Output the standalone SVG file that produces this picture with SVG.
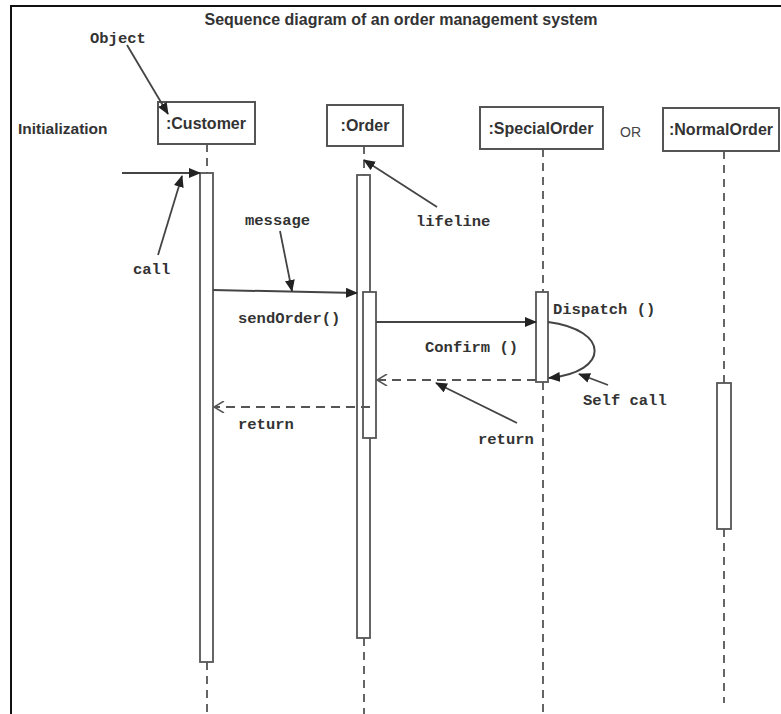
<svg xmlns="http://www.w3.org/2000/svg" width="781" height="714" viewBox="0 0 781 714">
<style>
.box{fill:#fff;stroke:#555;stroke-width:2}
.act{fill:#fff;stroke:#555;stroke-width:1.8}
.life{stroke:#555;stroke-width:1.8;stroke-dasharray:8,6;fill:none}
.msg{stroke:#444;stroke-width:2;fill:none}
.ret{stroke:#555;stroke-width:2;stroke-dasharray:9,6;fill:none}
.ann{stroke:#444;stroke-width:1.8;fill:none}
.lbl{font-family:"Liberation Sans",Arial,sans-serif;font-weight:bold;fill:#333}
.mono{font-family:"Liberation Mono","Courier New",monospace;font-size:15.5px;font-weight:bold;fill:#333}
</style>
<defs>
<marker id="fill" markerWidth="12" markerHeight="10" refX="11" refY="5" orient="auto" markerUnits="userSpaceOnUse">
<path d="M0,0 L12,5 L0,10 Z" fill="#222"/>
</marker>
<marker id="open" markerWidth="12" markerHeight="12" refX="11" refY="6" orient="auto" markerUnits="userSpaceOnUse">
<path d="M1,0 L11,6 L1,12" fill="none" stroke="#555" stroke-width="1.5"/>
</marker>
</defs>
<rect width="781" height="714" fill="#fff"/>
<path d="M11,714 V6 H781" fill="none" stroke="#111" stroke-width="2"/>
<text class="lbl" x="401" y="25" font-size="16" text-anchor="middle">Sequence diagram of an order management system</text>
<text class="lbl" x="18" y="134" font-size="15.5">Initialization</text>
<text x="620" y="137" font-family="Liberation Sans,Arial,sans-serif" font-size="14" fill="#444">OR</text>

<g id="customer">
<rect class="box" x="158" y="102" width="97" height="42"/>
<text class="lbl" x="206" y="129" font-size="16" text-anchor="middle">:Customer</text>
<line class="life" x1="207" y1="144" x2="207" y2="173"/>
<rect class="act" x="200" y="173" width="13" height="489"/>
<line class="life" x1="207" y1="662" x2="207" y2="714"/>
</g>
<g id="order">
<rect class="box" x="327" y="105" width="76" height="41"/>
<text class="lbl" x="365" y="131" font-size="16" text-anchor="middle">:Order</text>
<line class="life" x1="364" y1="146" x2="364" y2="175"/>
<rect class="act" x="357" y="175" width="13" height="463"/>
<rect class="act" x="363" y="292" width="13" height="146"/>
<line class="life" x1="364" y1="638" x2="364" y2="714"/>
</g>
<g id="specialorder">
<rect class="box" x="480" y="107" width="123" height="42"/>
<text class="lbl" x="541" y="134" font-size="16" text-anchor="middle">:SpecialOrder</text>
<line class="life" x1="543" y1="149" x2="543" y2="292"/>
<rect class="act" x="536" y="292" width="12" height="90"/>
<line class="life" x1="543" y1="382" x2="543" y2="714"/>
</g>
<g id="normalorder">
<rect class="box" x="663" y="108" width="116" height="43"/>
<text class="lbl" x="721" y="135" font-size="16" text-anchor="middle">:NormalOrder</text>
<line class="life" x1="724" y1="151" x2="724" y2="383"/>
<rect class="act" x="717" y="383" width="14" height="146"/>
<line class="life" x1="724" y1="529" x2="724" y2="703"/>
</g>

<g id="connectors">
<line class="msg" x1="122" y1="173" x2="200" y2="173" marker-end="url(#fill)"/>
<line class="msg" x1="213" y1="290" x2="357" y2="293" marker-end="url(#fill)"/>
<line class="msg" x1="376" y1="322" x2="536" y2="322" marker-end="url(#fill)"/>
<path class="msg" d="M548,322 C610,330 610,372 549,378" marker-end="url(#fill)"/>
<line class="ret" x1="536" y1="380" x2="377" y2="380" marker-end="url(#open)"/>
<line class="ret" x1="370" y1="407" x2="214" y2="407" marker-end="url(#open)"/>
<line class="ann" x1="127" y1="45" x2="168" y2="114" marker-end="url(#fill)"/>
<line class="ann" x1="158" y1="255" x2="182" y2="176" marker-end="url(#fill)"/>
<line class="ann" x1="280" y1="231" x2="292" y2="291" marker-end="url(#fill)"/>
<line class="ann" x1="437" y1="207" x2="364" y2="160" marker-end="url(#fill)"/>
<line class="ann" x1="517" y1="423" x2="436" y2="383" marker-end="url(#fill)"/>
<line class="ann" x1="608" y1="385" x2="579" y2="374" marker-end="url(#fill)"/>
</g>

<text class="mono" x="90" y="43" font-size="16">Object</text>
<text class="mono" x="133" y="274">call</text>
<text class="mono" x="245" y="225">message</text>
<text class="mono" x="416" y="226">lifeline</text>
<text class="mono" x="238" y="323">sendOrder()</text>
<text class="mono" x="553" y="314">Dispatch ()</text>
<text class="mono" x="425" y="352">Confirm ()</text>
<text class="mono" x="583" y="405">Self call</text>
<text class="mono" x="478" y="444">return</text>
<text class="mono" x="238" y="429">return</text>
</svg>
